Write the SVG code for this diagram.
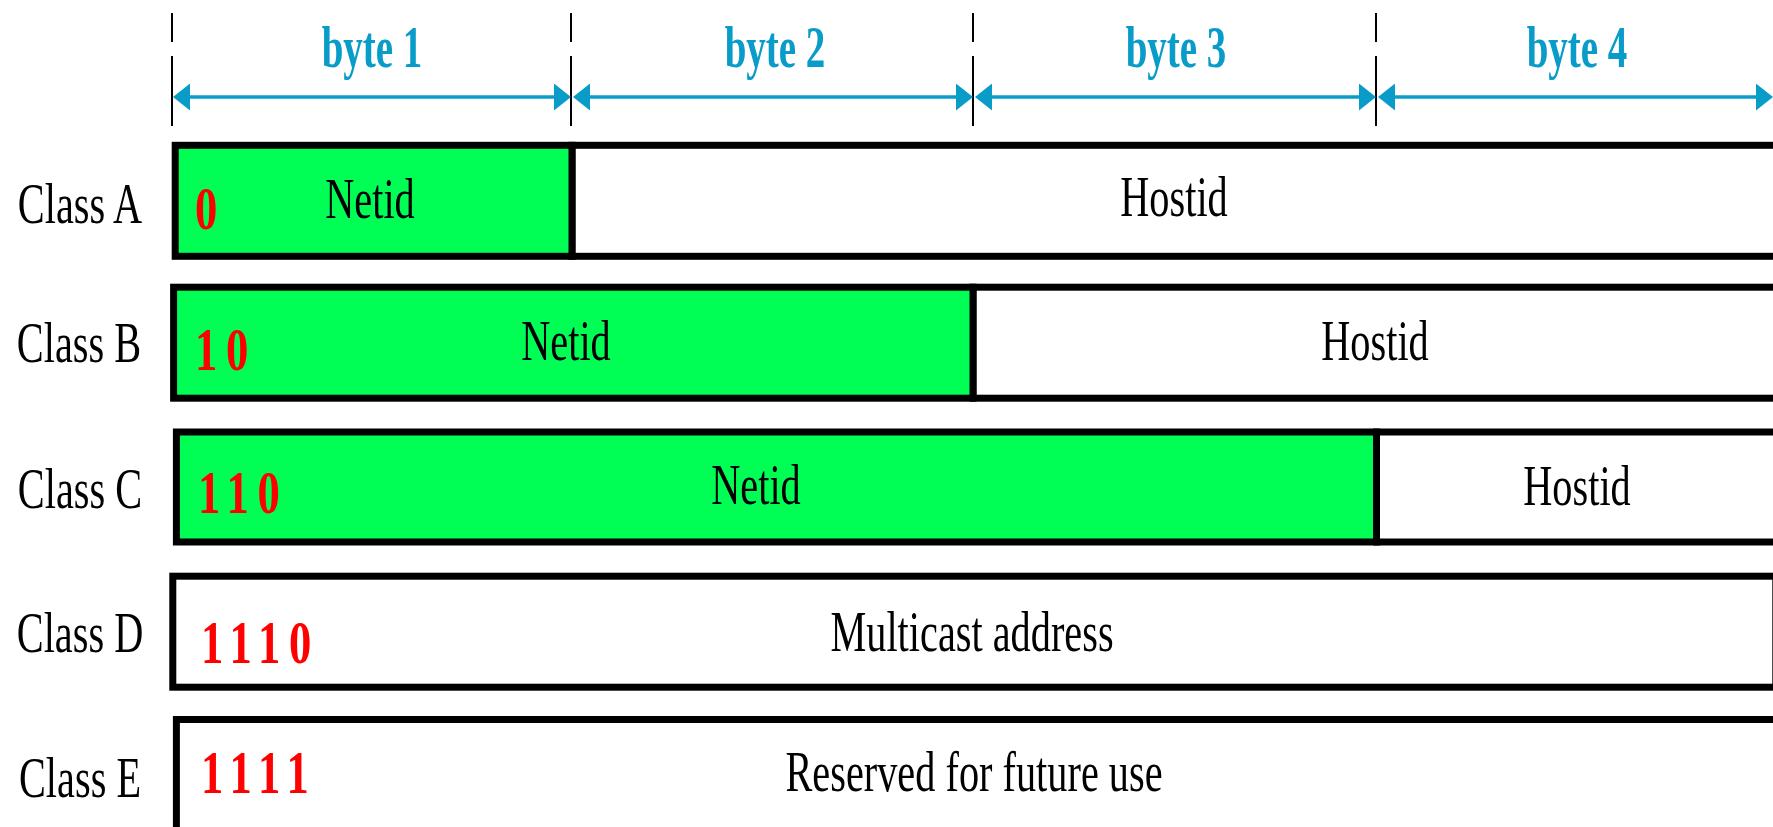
<svg xmlns="http://www.w3.org/2000/svg" width="1773" height="827" viewBox="0 0 1773 827">
<style>
.lbl{font-family:"Liberation Serif","Times New Roman",serif;font-size:58px;fill:#000;text-anchor:middle}
.bits{font-family:"Liberation Serif","Times New Roman",serif;font-size:62px;font-weight:bold;fill:#ff0000;letter-spacing:12px}
.byte{font-family:"Liberation Serif","Times New Roman",serif;font-size:60px;font-weight:bold;fill:#0a9cc9;text-anchor:middle}
.net{fill:#00ff55;stroke:#000;stroke-width:7}
.host{fill:#fff;stroke:#000;stroke-width:7}
.tick{stroke:#000;stroke-width:2;fill:none}
.dim{stroke:#0a9cc9;stroke-width:3.5;fill:none;marker-start:url(#ah);marker-end:url(#ah)}
</style>
<defs>
<marker id="ah" viewBox="0 0 17 27" refX="9" refY="13.5" markerWidth="17" markerHeight="27" markerUnits="userSpaceOnUse" orient="auto-start-reverse">
<path d="M0,0 L17,13.5 L0,27 Z" fill="#0a9cc9"/>
</marker>
</defs>
<rect x="0" y="0" width="1773" height="827" fill="#fff"/>

<g id="byte-ruler">
<path class="tick" d="M172,13V42M172,56V126M571,13V42M571,56V126M973,13V42M973,56V126M1376,13V42M1376,56V126"/>
<line class="dim" x1="181" y1="97" x2="563" y2="97"/>
<line class="dim" x1="581" y1="97" x2="965" y2="97"/>
<line class="dim" x1="983" y1="97" x2="1368" y2="97"/>
<line class="dim" x1="1386" y1="97" x2="1765" y2="97"/>
<text class="byte" transform="translate(372,67) scale(0.65,1)">byte 1</text>
<text class="byte" transform="translate(775,67) scale(0.65,1)">byte 2</text>
<text class="byte" transform="translate(1176,67) scale(0.65,1)">byte 3</text>
<text class="byte" transform="translate(1577,67) scale(0.65,1)">byte 4</text>
</g>

<g id="classA">
<text class="lbl" transform="translate(80,223) scale(0.695,1)">Class A</text>
<rect class="host" x="572" y="145.3" width="1220" height="111"/>
<rect class="net" x="175.2" y="145.3" width="396.8" height="111"/>
<text class="bits" transform="translate(195,229) scale(0.72,1)">0</text>
<text class="lbl" transform="translate(370,218) scale(0.695,1)">Netid</text>
<text class="lbl" transform="translate(1174,216) scale(0.695,1)">Hostid</text>
</g>

<g id="classB">
<text class="lbl" transform="translate(79,362) scale(0.695,1)">Class B</text>
<rect class="host" x="973" y="287.2" width="820" height="111"/>
<rect class="net" x="173.6" y="287.2" width="799.4" height="111"/>
<text class="bits" transform="translate(195,370) scale(0.72,1)">10</text>
<text class="lbl" transform="translate(566,360) scale(0.695,1)">Netid</text>
<text class="lbl" transform="translate(1375,360) scale(0.695,1)">Hostid</text>
</g>

<g id="classC">
<text class="lbl" transform="translate(80,508) scale(0.695,1)">Class C</text>
<rect class="host" x="1376.5" y="432" width="420" height="110"/>
<rect class="net" x="176.4" y="432" width="1200.1" height="110"/>
<text class="bits" transform="translate(198,513) scale(0.72,1)">110</text>
<text class="lbl" transform="translate(756,504) scale(0.695,1)">Netid</text>
<text class="lbl" transform="translate(1577,505) scale(0.695,1)">Hostid</text>
</g>

<g id="classD">
<text class="lbl" transform="translate(80,652) scale(0.695,1)">Class D</text>
<rect class="host" x="172.8" y="576.2" width="1603" height="111"/>
<text class="bits" transform="translate(201,663) scale(0.72,1)">1110</text>
<text class="lbl" transform="translate(972,651) scale(0.695,1)">Multicast address</text>
</g>

<g id="classE">
<text class="lbl" transform="translate(80,797) scale(0.695,1)">Class E</text>
<rect class="host" x="176.4" y="719.5" width="1620" height="111"/>
<text class="bits" transform="translate(201,793) scale(0.72,1)">1111</text>
<text class="lbl" transform="translate(974,791) scale(0.695,1)">Reserved for future use</text>
</g>
</svg>
